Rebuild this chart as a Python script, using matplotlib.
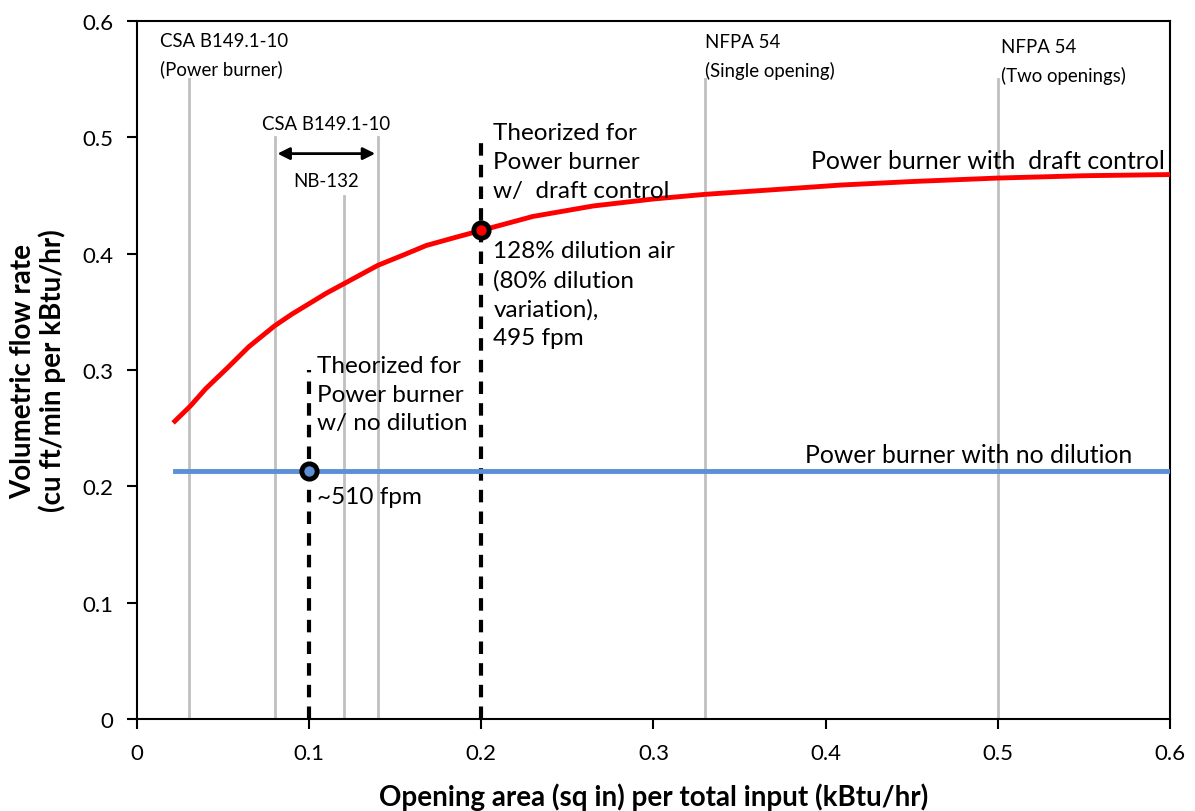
import matplotlib.pyplot as plt

plt.rcParams['font.family'] = ['Lato', 'DejaVu Sans']

# red curve: power burner with draft control
draft_x = [0.022, 0.031, 0.04, 0.052, 0.065, 0.08, 0.09, 0.1, 0.11, 0.12, 0.13, 0.14, 0.155,
           0.168, 0.185, 0.2, 0.23, 0.265, 0.3, 0.33, 0.37, 0.409, 0.45, 0.5, 0.55, 0.6]
draft_y = [0.256, 0.269, 0.284, 0.301, 0.320, 0.338, 0.348, 0.357, 0.366, 0.374, 0.382, 0.390, 0.399,
           0.407, 0.414, 0.420, 0.432, 0.441, 0.447, 0.451, 0.455, 0.459, 0.462, 0.465, 0.467, 0.468]

# blue line: power burner with no dilution
nodil_x = [0.022, 0.6]
nodil_y = [0.213, 0.213]

# gray reference lines (x position, top)
ref_x = [0.03, 0.08, 0.12, 0.14, 0.33, 0.5]
ref_top = [0.55, 0.5, 0.45, 0.5, 0.55, 0.55]

# dashed theorized lines
theo_x = [0.1, 0.2]
theo_top = [0.3, 0.495]

# highlighted points
pt_x = [0.1, 0.2]
pt_y = [0.213, 0.42]
pt_col = ['#5b8fd6', '#ff0000']


def main():
    fig = plt.figure(figsize=(11.95, 8.12), dpi=100)
    ax = fig.add_axes([0.1146, 0.1133, 0.8644, 0.8596])

    for x, t in zip(ref_x, ref_top):
        ax.plot([x, x], [0, t], color='#c0c0c0', lw=2, zorder=1)
    for x, t in zip(theo_x, theo_top):
        ax.plot([x, x], [0, t], color='black', lw=3, ls=(0, (3, 2.2)), zorder=2)

    ax.plot(draft_x, draft_y, color='#ff0000', lw=3.5, zorder=3, solid_joinstyle='round')
    ax.plot(nodil_x, nodil_y, color='#5b8fd6', lw=3.5, zorder=3)
    for x, y, c in zip(pt_x, pt_y, pt_col):
        ax.plot(x, y, 'o', ms=11, mfc=c, mec='black', mew=3.5, zorder=4)

    ax.annotate('', xy=(0.08, 0.486), xytext=(0.14, 0.486),
                arrowprops=dict(arrowstyle='<|-|>', color='black', lw=2, mutation_scale=18), zorder=5)

    small = 13.4
    big = 17.5
    ax.text(0.0134, 0.583, 'CSA B149.1-10', fontsize=small, va='center')
    ax.text(0.0134, 0.559, '(Power burner)', fontsize=small, va='center')
    ax.text(0.110, 0.512, 'CSA B149.1-10', fontsize=small, va='center', ha='center')
    ax.text(0.110, 0.463, 'NB-132', fontsize=small, va='center', ha='center')
    ax.text(0.330, 0.582, 'NFPA 54', fontsize=small, va='center')
    ax.text(0.330, 0.558, '(Single opening)', fontsize=small, va='center')
    ax.text(0.502, 0.578, 'NFPA 54', fontsize=small, va='center')
    ax.text(0.502, 0.554, '(Two openings)', fontsize=small, va='center')

    ax.text(0.207, 0.513, 'Theorized for\nPower burner\nw/  draft control', fontsize=big,
            va='top', linespacing=1.45)
    ax.text(0.207, 0.412, '128% dilution air\n(80% dilution\nvariation),\n495 fpm', fontsize=big,
            va='top', linespacing=1.45)
    ax.text(0.1045, 0.313, 'Theorized for\nPower burner\nw/ no dilution', fontsize=big,
            va='top', linespacing=1.45)
    ax.text(0.1045, 0.191, '~510 fpm', fontsize=big, va='center')
    ax.text(0.597, 0.480, 'Power burner with  draft control', fontsize=17.8, ha='right', va='center')
    ax.text(0.578, 0.227, 'Power burner with no dilution', fontsize=17.8, ha='right', va='center')

    ax.set_xlim(0, 0.6)
    ax.set_ylim(0, 0.6)
    ax.set_xticks([0, 0.1, 0.2, 0.3, 0.4, 0.5, 0.6])
    ax.set_xticklabels(['0', '0.1', '0.2', '0.3', '0.4', '0.5', '0.6'])
    ax.set_yticks([0, 0.1, 0.2, 0.3, 0.4, 0.5, 0.6])
    ax.set_yticklabels(['0', '0.1', '0.2', '0.3', '0.4', '0.5', '0.6'])
    ax.tick_params(direction='out', length=7, width=1.5, labelsize=16, pad=10)
    for s in ax.spines.values():
        s.set_linewidth(1.5)

    ax.set_xlabel('Opening area (sq in) per total input (kBtu/hr)', fontsize=20, fontweight='bold', labelpad=14)
    ax.set_ylabel('Volumetric flow rate\n(cu ft/min per kBtu/hr)', fontsize=20, fontweight='bold', labelpad=12,
                  linespacing=1.1)

    fig.savefig('out.png', dpi=100)


if __name__ == '__main__':
    main()
